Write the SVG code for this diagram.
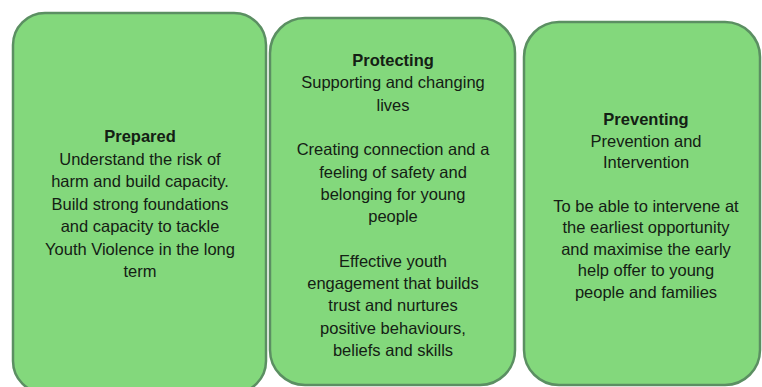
<svg xmlns="http://www.w3.org/2000/svg" width="762" height="387" viewBox="0 0 762 387">
<style>
.box{fill:#83d87c;stroke:#5b8f62;stroke-width:2.5}
text{font-family:"Liberation Sans",Arial,sans-serif;font-size:16.5px;fill:#142014;text-anchor:middle}
.t{font-weight:bold}
</style>
<rect width="762" height="387" fill="#ffffff"/>
<g id="prepared">
<rect class="box" x="13" y="13" width="253" height="380" rx="32" ry="32"/>
<text x="140" y="142" class="t">Prepared</text>
<text x="140" y="164.5">Understand the risk of</text>
<text x="140" y="187">harm and build capacity.</text>
<text x="140" y="209.5">Build strong foundations</text>
<text x="140" y="232">and capacity to tackle</text>
<text x="140" y="254.5">Youth Violence in the long</text>
<text x="140" y="277">term</text>
</g>
<g id="protecting">
<rect class="box" x="270" y="18" width="245" height="367" rx="35" ry="35"/>
<text x="393" y="66" class="t">Protecting</text>
<text x="393" y="88.3">Supporting and changing</text>
<text x="393" y="110.6">lives</text>
<text x="393" y="155.2">Creating connection and a</text>
<text x="393" y="177.5">feeling of safety and</text>
<text x="393" y="199.8">belonging for young</text>
<text x="393" y="222.1">people</text>
<text x="393" y="266.7">Effective youth</text>
<text x="393" y="289">engagement that builds</text>
<text x="393" y="311.3">trust and nurtures</text>
<text x="393" y="333.6">positive behaviours,</text>
<text x="393" y="355.9">beliefs and skills</text>
</g>
<g id="preventing">
<rect class="box" x="524" y="22" width="236" height="363" rx="35" ry="35"/>
<text x="646" y="125" class="t">Preventing</text>
<text x="646" y="146.5">Prevention and</text>
<text x="646" y="168">Intervention</text>
<text x="646" y="211.5">To be able to intervene at</text>
<text x="646" y="233">the earliest opportunity</text>
<text x="646" y="254.5">and maximise the early</text>
<text x="646" y="276">help offer to young</text>
<text x="646" y="297.5">people and families</text>
</g>
<g id="connectors"></g>
</svg>
